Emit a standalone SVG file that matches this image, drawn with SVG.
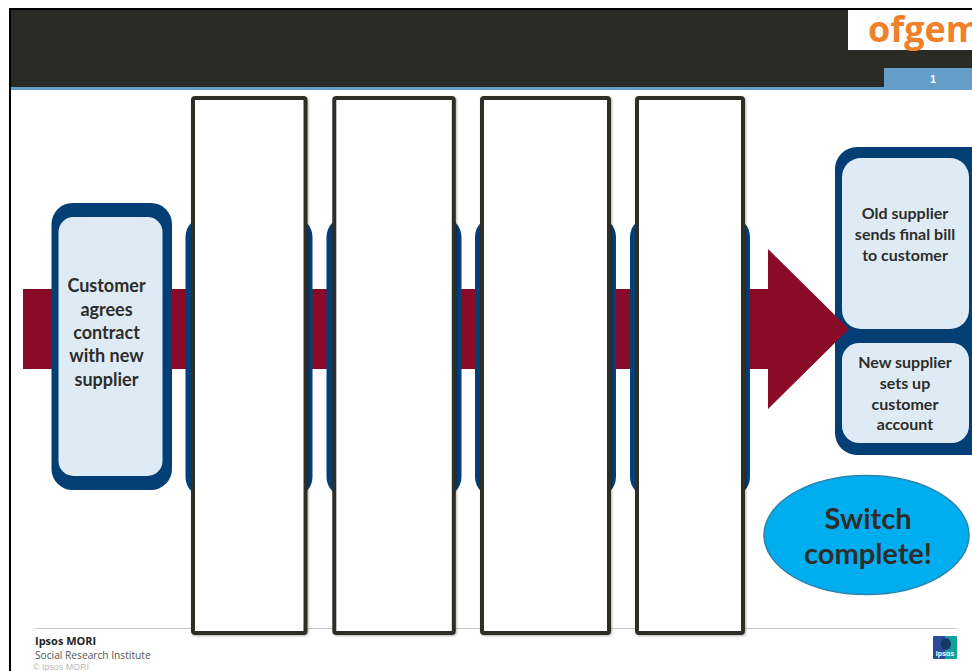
<svg xmlns="http://www.w3.org/2000/svg" width="972" height="671" viewBox="0 0 972 671">
<defs>
<filter id="sh" x="-5%" y="-2%" width="110%" height="104%"><feDropShadow dx="1" dy="1" stdDeviation="1" flood-color="#000" flood-opacity="0.3"/></filter>
<linearGradient id="ip" x1="0" x2="1" y1="0" y2="0"><stop offset="0.5" stop-color="#2b4a9b"/><stop offset="0.5" stop-color="#12a19a"/></linearGradient>
</defs>
<style>
.outer{fill:#033e75}
.inner{fill:#dfebf4}
.cover{fill:#fff;stroke:#2d2d28;stroke-width:4;filter:url(#sh)}
.t{font-family:"Lato","Liberation Sans",sans-serif;font-weight:700;fill:#2d2d2b;text-anchor:middle}
.t18{font-size:18px}
.t16{font-size:16px}
.t29{font-size:29px}
.foot{font-family:"Open Sans","Liberation Sans",sans-serif}
</style>
<rect width="972" height="671" fill="#fff"/>
<g id="header">
<rect x="11" y="10" width="961" height="78" fill="#2b2b26"/>
<rect x="11" y="87" width="961" height="3" fill="#659dc9"/>
<rect x="884" y="68" width="88" height="21" fill="#659dc9"/>
<text x="933" y="83" font-family="Liberation Sans,sans-serif" font-size="11" font-weight="700" fill="#fff" text-anchor="middle">1</text>
<rect x="848" y="10" width="124" height="40" fill="#fff"/>
<text x="868" y="42" font-family="Open Sans,Liberation Sans,sans-serif" font-size="36" font-weight="700" fill="#f08029">ofgem</text>
</g>
<g id="frame"><path d="M10 671V9H972" fill="none" stroke="#000" stroke-width="2"/></g>
<g id="footer">
<line x1="35" y1="628.500" x2="957" y2="628.500" stroke="#c4c4c4" stroke-width="1"/>
<text class="foot" x="35" y="645" font-size="11" font-weight="700" fill="#222">Ipsos MORI</text>
<text class="foot" x="35" y="659" font-size="10.200" fill="#555">Social Research Institute</text>
<text x="33" y="670" font-family="Liberation Sans,sans-serif" font-size="8.900" fill="#bbb">© Ipsos MORI</text>
<rect x="933" y="636" width="24" height="23" rx="1" fill="url(#ip)"/>
<ellipse cx="946" cy="644" rx="5" ry="6" fill="#123a66"/>
<text x="945" y="656" font-family="Liberation Sans,sans-serif" font-size="7" font-weight="700" fill="#fff" text-anchor="middle">Ipsos</text>
</g>
<g id="node-suppliers">
<rect class="outer" x="835" y="147" width="160" height="308" rx="22"/>
<rect class="inner" x="842" y="158" width="127" height="171" rx="19"/>
<rect class="inner" x="842" y="343" width="127" height="100" rx="17"/>
<text class="t t16"><tspan x="905" y="219">Old supplier</tspan><tspan x="905" y="240">sends final bill</tspan><tspan x="905" y="261">to customer</tspan></text>
<text class="t t16"><tspan x="905" y="368">New supplier</tspan><tspan x="905" y="389">sets up</tspan><tspan x="905" y="410">customer</tspan><tspan x="905" y="430">account</tspan></text>
</g>
<g id="connectors">
<path d="M23 289H768V249L849 329L768 409V369H23Z" fill="#8a0b27"/>
</g>
<g id="node-customer">
<rect class="outer" x="51.500" y="203" width="120.500" height="287" rx="21"/>
<rect class="inner" x="58.500" y="217" width="104" height="259" rx="15"/>
<text class="t t18"><tspan x="106.500" y="292">Customer</tspan><tspan x="106.500" y="315.500">agrees</tspan><tspan x="106.500" y="339">contract</tspan><tspan x="106.500" y="362">with new</tspan><tspan x="106.500" y="386">supplier</tspan></text>
</g>
<g id="node-hidden-1"><rect class="outer" x="185.500" y="217" width="127" height="280" rx="20"/></g>
<g id="node-hidden-2"><rect class="outer" x="326.500" y="217" width="135" height="280" rx="20"/></g>
<g id="node-hidden-3"><rect class="outer" x="475" y="217" width="141" height="280" rx="20"/></g>
<g id="node-hidden-4"><rect class="outer" x="630" y="217" width="120" height="280" rx="20"/></g>
<g id="cover-1"><rect class="cover" x="193" y="98" width="112.500" height="535" rx="2"/></g>
<g id="cover-2"><rect class="cover" x="334.300" y="98" width="119.500" height="535" rx="2"/></g>
<g id="cover-3"><rect class="cover" x="482" y="98" width="127" height="535" rx="2"/></g>
<g id="cover-4"><rect class="cover" x="637" y="98" width="106" height="535" rx="2"/></g>
<g id="node-complete">
<ellipse cx="866.500" cy="535" rx="102.500" ry="59.500" fill="#00aeef" stroke="#2b82ab" stroke-width="1.500"/>
<text class="t t29"><tspan x="868" y="529">Switch</tspan><tspan x="868" y="564">complete!</tspan></text>
</g>
</svg>
